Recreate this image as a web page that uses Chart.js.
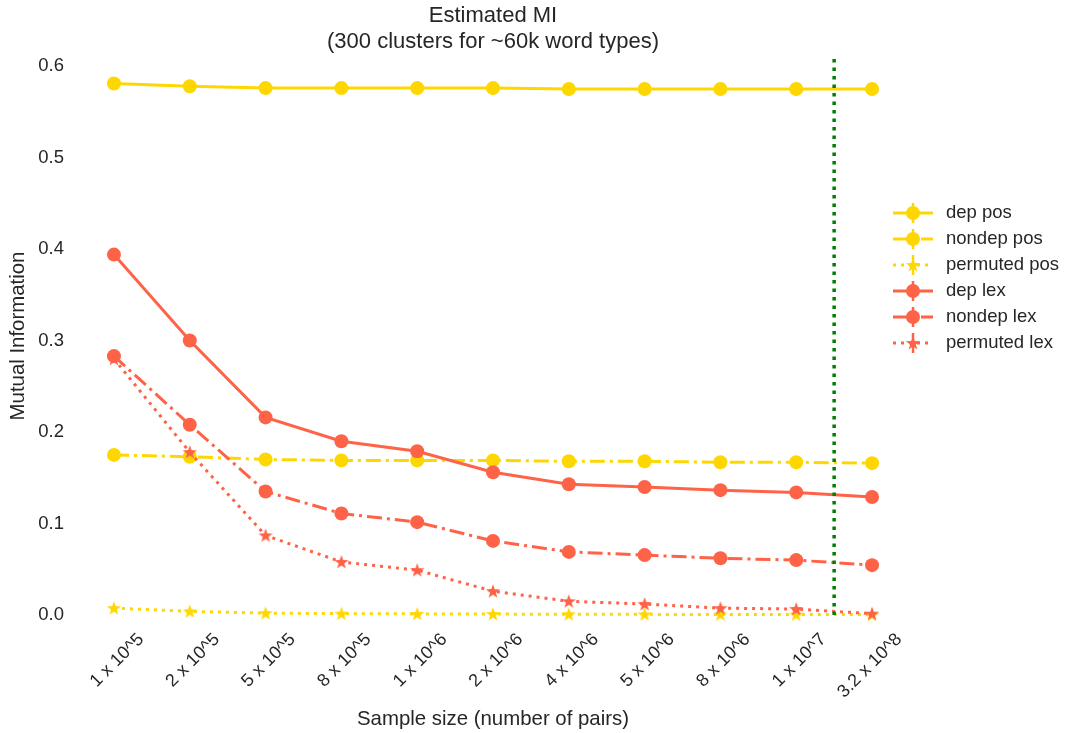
<!DOCTYPE html>
<html>
<head>
<meta charset="utf-8">
<script src="https://cdn.jsdelivr.net/npm/chart.js@4/dist/chart.umd.min.js"></script>
<style>
  html, body { margin: 0; padding: 0; background: #ffffff; }
  #wrap { width: 1065px; height: 733px; }
</style>
</head>
<body>
<div id="wrap"><canvas id="c" width="1065" height="733"></canvas></div>
<script>
// ---- data ----
const xLabels = ['1 x 10^5', '2 x 10^5', '5 x 10^5', '8 x 10^5', '1 x 10^6', '2 x 10^6',
                 '4 x 10^6', '5 x 10^6', '8 x 10^6', '1 x 10^7', '3.2 x 10^8'];
const yTicks = [0.0, 0.1, 0.2, 0.3, 0.4, 0.5, 0.6];

const depPos      = [0.581, 0.578, 0.576, 0.576, 0.576, 0.576, 0.575, 0.575, 0.575, 0.575, 0.575];
const nondepPos   = [0.175, 0.173, 0.170, 0.169, 0.169, 0.169, 0.168, 0.168, 0.167, 0.167, 0.166];
const permutedPos = [0.0075, 0.0040, 0.0020, 0.0015, 0.0012, 0.0010, 0.0008, 0.0007, 0.0006, 0.0005, 0.0004];
const depLex      = [0.394, 0.300, 0.216, 0.190, 0.179, 0.156, 0.143, 0.140, 0.1365, 0.134, 0.129];
const nondepLex   = [0.283, 0.208, 0.135, 0.111, 0.1015, 0.081, 0.069, 0.0655, 0.062, 0.060, 0.0545];
const permutedLex = [0.280, 0.178, 0.087, 0.058, 0.049, 0.026, 0.015, 0.012, 0.0075, 0.0065, 0.0015];

const seriesNames = ['dep pos', 'nondep pos', 'permuted pos', 'dep lex', 'nondep lex', 'permuted lex'];
const dividerAt = 9.5;       // vertical dotted marker between 1x10^7 and 3.2x10^8
const yMin = 0, yMax = 0.61;

// ---- styling ----
const GOLD = '#FFD700', TOMATO = '#FF6347', TEXT = '#262626';
const FONT = "'Liberation Sans', Arial, 'DejaVu Sans', sans-serif";

function starImage(color) {
  const c = document.createElement('canvas');
  c.width = 16; c.height = 16;
  const g = c.getContext('2d');
  const cx = 8, cy = 8.5, R = 7.5, r = 3;
  g.beginPath();
  for (let k = 0; k < 10; k++) {
    const rad = (k % 2 === 0) ? R : r;
    const a = -Math.PI / 2 + k * Math.PI / 5;
    const px = cx + rad * Math.cos(a), py = cy + rad * Math.sin(a);
    if (k === 0) g.moveTo(px, py); else g.lineTo(px, py);
  }
  g.closePath();
  g.fillStyle = color;
  g.fill();
  return c;
}
const starGold = starImage(GOLD), starTomato = starImage(TOMATO);

const toXY = arr => arr.map((v, i) => ({x: i, y: v}));
const DASHDOT = [15, 5, 3, 5], DOT = [3, 5];

function series(label, values, color, dash, marker, order) {
  const isStar = marker !== 'circle';
  return {
    label, data: toXY(values), order,
    borderColor: color, backgroundColor: color,
    borderWidth: 3, borderDash: dash, tension: 0, clip: false,
    pointStyle: marker, pointRadius: isStar ? 6 : 7, pointBorderWidth: 0,
    pointBackgroundColor: color, pointBorderColor: color
  };
}

const datasets = [
  series(seriesNames[0], depPos, GOLD, [], 'circle', 6),
  series(seriesNames[1], nondepPos, GOLD, DASHDOT, 'circle', 5),
  series(seriesNames[2], permutedPos, GOLD, DOT, starGold, 4),
  series(seriesNames[3], depLex, TOMATO, [], 'circle', 3),
  series(seriesNames[4], nondepLex, TOMATO, DASHDOT, 'circle', 2),
  series(seriesNames[5], permutedLex, TOMATO, DOT, starTomato, 1),
  {
    label: '_divider', data: [{x: dividerAt, y: yMin}, {x: dividerAt, y: yMax}], order: 0,
    borderColor: '#008000', borderWidth: 3.5, borderDash: [3.5, 5], pointRadius: 0, clip: false
  }
];

// custom legend (line sample + marker + errorbar stem, like the original)
const legendPlugin = {
  id: 'mplLegend',
  afterDraw(chart) {
    const ctx = chart.ctx;
    const x0 = 893, x1 = 933, xm = 913, textX = 946, yStart = 213, step = 26;
    chart.data.datasets.forEach((ds, i) => {
      if (ds.label.startsWith('_')) return;
      const y = yStart + i * step;
      ctx.save();
      ctx.strokeStyle = ds.borderColor;
      ctx.lineWidth = 3;
      ctx.setLineDash(ds.borderDash || []);
      ctx.beginPath(); ctx.moveTo(x0, y); ctx.lineTo(x1, y); ctx.stroke();
      ctx.setLineDash([]);
      ctx.lineWidth = 2.5;
      ctx.beginPath(); ctx.moveTo(xm, y - 10); ctx.lineTo(xm, y + 10); ctx.stroke();
      if (ds.pointStyle === 'circle') {
        ctx.fillStyle = ds.borderColor;
        ctx.beginPath(); ctx.arc(xm, y, 7, 0, Math.PI * 2); ctx.fill();
      } else {
        ctx.drawImage(ds.pointStyle, xm - ds.pointStyle.width / 2, y - ds.pointStyle.height / 2);
      }
      ctx.fillStyle = TEXT;
      ctx.font = '18.5px ' + FONT;
      ctx.textBaseline = 'middle';
      ctx.textAlign = 'left';
      ctx.fillText(ds.label, textX, y);
      ctx.restore();
    });
  }
};

new Chart(document.getElementById('c'), {
  type: 'line',
  data: { datasets },
  plugins: [legendPlugin],
  options: {
    responsive: false,
    animation: false,
    events: [],
    layout: { padding: { left: 0, right: 174, top: 0, bottom: 0 } },
    plugins: {
      legend: { display: false },
      tooltip: { enabled: false },
      title: {
        display: true,
        fullSize: false,
        text: ['Estimated MI', '(300 clusters for ~60k word types)'],
        color: TEXT,
        font: { family: FONT, size: 22, weight: 'normal', lineHeight: 26 / 22 },
        padding: { top: 3, bottom: 2 }
      }
    },
    scales: {
      x: {
        type: 'linear', min: -0.25, max: 10.25,
        afterBuildTicks: s => { s.ticks = xLabels.map((_, i) => ({value: i})); },
        afterFit: s => { s.height = 118; },
        grid: { display: false, drawTicks: false },
        border: { display: false },
        ticks: {
          callback: v => xLabels[v],
          minRotation: 45, maxRotation: 45, autoSkip: false,
          color: TEXT, padding: 14, labelOffset: 27,
          font: { family: FONT, size: 18 }
        },
        title: {
          display: true, text: 'Sample size (number of pairs)', color: TEXT,
          font: { family: FONT, size: 20.4 }, padding: { top: 0, bottom: 1 }
        }
      },
      y: {
        type: 'linear', min: yMin, max: yMax,
        afterBuildTicks: s => { s.ticks = yTicks.map(v => ({value: v})); },
        afterFit: s => { s.width = 95; },
        grid: { display: false, drawTicks: false },
        border: { display: false },
        ticks: {
          callback: v => v.toFixed(1),
          color: TEXT, padding: 31,
          font: { family: FONT, size: 18.5 }
        },
        title: {
          display: true, text: 'Mutual Information', color: TEXT,
          font: { family: FONT, size: 20.4 }, padding: { top: 6, bottom: 0 }
        }
      }
    }
  }
});
</script>
</body>
</html>
